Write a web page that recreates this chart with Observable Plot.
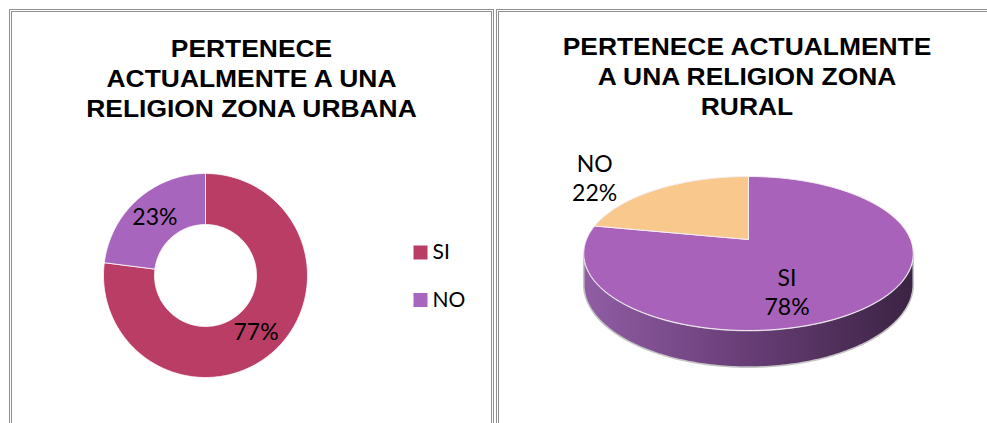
<!DOCTYPE html>
<html><head><meta charset="utf-8">
<script src="https://cdn.jsdelivr.net/npm/d3@7"></script>
<script src="https://cdn.jsdelivr.net/npm/@observablehq/plot@0.6"></script>
<style>
html,body{margin:0;padding:0;background:#fff}
body{width:987px;height:423px;overflow:hidden;position:relative}
.panel{position:absolute;border:3px double #8f8f8f;box-sizing:border-box;background:#fff}
.panel svg{position:absolute;left:0;top:0}
.title{position:absolute;left:0;right:0;text-align:center;white-space:nowrap;font:bold 24px/30px "Liberation Sans",Arial,sans-serif;color:#000;transform:scaleX(1.1);transform-origin:50% 0}
</style></head><body>
<div class="panel" id="p1" style="left:9px;top:9px;width:485px;height:430px"><div class="title" style="top:22px">PERTENECE<br>ACTUALMENTE A UNA<br>RELIGION ZONA URBANA</div></div>
<div class="panel" id="p2" style="left:496px;top:9px;width:502px;height:430px"><div class="title" style="top:20px">PERTENECE ACTUALMENTE<br>A UNA RELIGION ZONA<br>RURAL</div></div>
<script>
// ---- data ----
const urbanCategories = ["SI", "NO"];
const urbanValues = [77, 23];
const urbanColors = ["#B93D65", "#A865BD"];

const ruralCategories = ["SI", "NO"];
const ruralValues = [78, 22];
const ruralColors = ["#A862BA", "#F8C88C"];

const DEG = Math.PI / 180;
const pieGen = d3.pie().sort(null).value(d => d.value);

// ---------- Panel 1 : donut ----------
{
  const W = 479, H = 424;
  const cx = 193, cy = 263, R = 102, r0 = 51;
  const data = urbanCategories.map((c, i) => ({cat: c, value: urbanValues[i], color: urbanColors[i]}));
  const arcs = pieGen(data);
  const slicePts = a => {
    const pts = [];
    const n = Math.max(2, Math.ceil((a.endAngle - a.startAngle) / DEG));
    for (let j = 0; j <= n; j++) {
      const t = a.startAngle + (a.endAngle - a.startAngle) * j / n;
      pts.push({x: cx + R * Math.sin(t), y: cy - R * Math.cos(t)});
    }
    for (let j = n; j >= 0; j--) {
      const t = a.startAngle + (a.endAngle - a.startAngle) * j / n;
      pts.push({x: cx + r0 * Math.sin(t), y: cy - r0 * Math.cos(t)});
    }
    pts.push(pts[0]);
    return pts;
  };
  const labels = arcs.map(a => {
    const m = (a.startAngle + a.endAngle) / 2, rm = (R + r0) / 2;
    return {x: cx + rm * Math.sin(m), y: cy - rm * Math.cos(m), text: a.data.value + "%"};
  });
  const legend = data.map((d, i) => ({x: 408, y: 240 + i * 47.5, cat: d.cat, color: d.color}));
  const chart = Plot.plot({
    width: W, height: H, margin: 0,
    x: {domain: [0, W], range: [0, W], axis: null},
    y: {domain: [0, H], range: [0, H], axis: null},
    style: {background: "transparent", overflow: "visible"},
    marks: [
      ...arcs.map(a => Plot.line(slicePts(a), {x: "x", y: "y", fill: a.data.color, stroke: "#ffffff", strokeWidth: 0.8, curve: "linear"})),
      Plot.text(labels, {x: "x", y: "y", text: "text", fontSize: 23, fontFamily: "Lato, sans-serif", fill: "#000", textAnchor: "middle", lineAnchor: "middle"}),
      Plot.dot(legend, {x: "x", y: "y", symbol: "square", r: 7.9, fill: "color", stroke: null}),
      Plot.text(legend, {x: d => d.x + 12, y: "y", text: "cat", fontSize: 21, fontFamily: "Lato, sans-serif", fill: "#000", textAnchor: "start", lineAnchor: "middle"})
    ],
    color: {type: "identity"}
  });
  document.getElementById("p1").prepend(chart);
}

// ---------- Panel 2 : 3D pie ----------
{
  const W = 496, H = 424;
  const cx = 249, cy = 227, A = 162, B = 74.45, k = 0.1818, depth = 30;
  const proj = (t, r, dz = 0) => {
    const X = r * Math.sin(t), Z = -r * Math.cos(t);
    const s = 1 / (1 - k * Z);
    return {x: cx + A * X * s, y: cy + B * Z * s + dz * s};
  };
  const data = ruralCategories.map((c, i) => ({cat: c, value: ruralValues[i], color: ruralColors[i]}));
  const arcs = pieGen(data);
  const topPts = a => {
    const pts = [proj(0, 0)];
    const n = Math.max(2, Math.ceil((a.endAngle - a.startAngle) / DEG));
    for (let j = 0; j <= n; j++) pts.push(proj(a.startAngle + (a.endAngle - a.startAngle) * j / n, 1));
    pts.push(proj(0, 0));
    return pts;
  };
  // visible side wall: between the two silhouette angles (cos t = -k)
  const tR = Math.acos(-k), tL = 2 * Math.PI - Math.acos(-k);
  const side = [];
  for (let j = 0; j <= 160; j++) side.push(proj(tR + (tL - tR) * j / 160, 1));
  for (let j = 160; j >= 0; j--) side.push(proj(tR + (tL - tR) * j / 160, 1, depth));
  side.push(side[0]);

  const gradDefs = () => {
    const defs = d3.create("svg:defs");
    const g = defs.append("linearGradient").attr("id", "sideGrad").attr("x1", 0).attr("x2", 1).attr("y1", 0).attr("y2", 0);
    [[0, "#905DA4"], [0.45, "#6C407B"], [1, "#3B2343"]].forEach(([o, c]) => g.append("stop").attr("offset", o).attr("stop-color", c));
    return defs.node();
  };
  const labelOffsets = {SI: {r: 0.5, dx: -17, dy: 21}, NO: {r: 1.25, dx: -44, dy: -1}};
  const labels = arcs.map(a => {
    const m = (a.startAngle + a.endAngle) / 2, o = labelOffsets[a.data.cat];
    const p = proj(m, o.r);
    return {x: p.x + o.dx, y: p.y + o.dy, text: a.data.cat + "\n" + a.data.value + "%"};
  });
  const chart = Plot.plot({
    width: W, height: H, margin: 0,
    x: {domain: [0, W], range: [0, W], axis: null},
    y: {domain: [0, H], range: [0, H], axis: null},
    style: {background: "transparent", overflow: "visible"},
    marks: [
      gradDefs,
      Plot.line(side, {x: "x", y: "y", fill: "url(#sideGrad)", stroke: "#c4c4c4", strokeWidth: 1.6, curve: "linear"}),
      ...arcs.map(a => Plot.line(topPts(a), {x: "x", y: "y", fill: a.data.color, stroke: "#f4eef6", strokeWidth: 1, curve: "linear"})),
      Plot.text(labels, {x: "x", y: "y", text: "text", fontSize: 23, lineHeight: 1.24, fontFamily: "Lato, sans-serif", fill: "#000", textAnchor: "middle", lineAnchor: "middle"})
    ],
    color: {type: "identity"}
  });
  document.getElementById("p2").prepend(chart);
}
</script>
</body></html>
